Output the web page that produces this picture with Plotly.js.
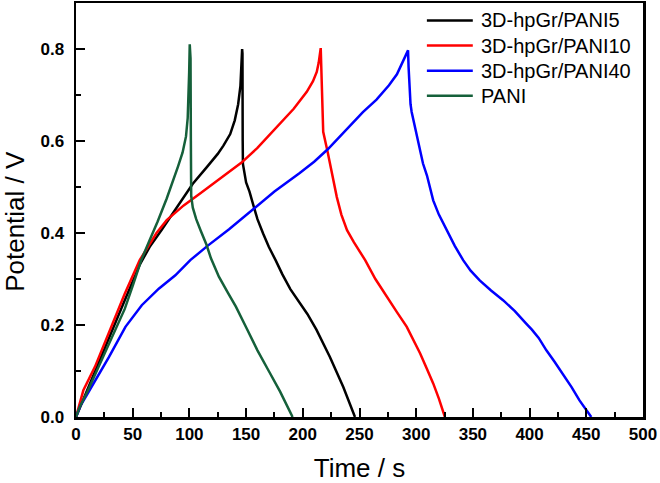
<!DOCTYPE html>
<html>
<head>
<meta charset="utf-8">
<script src="https://cdn.plot.ly/plotly-3.0.1.min.js"></script>
<style>html,body{margin:0;padding:0;background:#fff;}#chart{width:660px;height:483px;}</style>
</head>
<body>
<div id="chart"></div>
<script>
// PANI (green)
const tPANI = [0,3,10,16.7,28.4,43,50,57.7,65,72,80,86,90,94,97,98.5,99.3,99.8,100.3,101,101.3,101.6,103,106,110,115,119,126,134,141,150,160,170,180,191];
const vPANI = [0,0.02,0.055,0.091,0.156,0.235,0.285,0.342,0.385,0.425,0.475,0.515,0.545,0.575,0.61,0.65,0.7,0.75,0.81,0.78,0.6,0.48,0.455,0.43,0.405,0.375,0.345,0.305,0.27,0.24,0.195,0.145,0.1,0.055,0];
// 3D-hpGr/PANI5 (black)
const tP5 = [0,5,16.7,28.4,43,56,65,75.3,90,103,115,125,130,136,140,143,145,146.2,146.5,146.8,147,147.2,150,153,156,160,165,170,176,182,189,197,204,212,218,224,235.7,246];
const vP5 = [0,0.03,0.1,0.17,0.254,0.33,0.37,0.406,0.46,0.507,0.542,0.572,0.59,0.615,0.645,0.68,0.72,0.77,0.8,0.79,0.6,0.55,0.51,0.49,0.464,0.43,0.399,0.37,0.341,0.31,0.278,0.25,0.224,0.19,0.16,0.13,0.065,0];
// 3D-hpGr/PANI10 (red)
const tP10 = [0,6.5,16.7,28.4,43,56.2,71,80,95,110,125,146,160,174,180,192,203.5,209,212.3,214,215.8,216.5,217.5,218,222,225,230,234,239,245,250.4,255,264,274,283,291.7,297,303.5,309,315,320,325.3];
const vP10 = [0,0.058,0.109,0.181,0.268,0.341,0.40,0.428,0.46,0.487,0.515,0.553,0.585,0.622,0.638,0.67,0.707,0.73,0.75,0.77,0.802,0.75,0.65,0.62,0.575,0.54,0.478,0.44,0.406,0.38,0.359,0.341,0.3,0.261,0.228,0.196,0.17,0.138,0.107,0.073,0.04,0];
// 3D-hpGr/PANI40 (blue)
const tP40 = [0,4,10,17,29,43.6,58,73,87.6,100.8,116,135,156,175,197,210,222,235,253,265,276,283,288,292.8,293.3,294,295,296,300.4,306,309.5,315,320,326.8,334,341.4,348,356,366,376.6,387,397,402,408,414.8,422,429.4,437,444,454.4];
const vP40 = [0,0.025,0.05,0.08,0.13,0.196,0.243,0.279,0.308,0.341,0.372,0.408,0.452,0.49,0.53,0.555,0.582,0.615,0.663,0.69,0.721,0.745,0.772,0.797,0.76,0.72,0.68,0.663,0.612,0.551,0.525,0.471,0.44,0.406,0.372,0.341,0.318,0.297,0.275,0.254,0.23,0.203,0.19,0.172,0.145,0.12,0.094,0.065,0.036,0];

const seriesNames = ["3D-hpGr/PANI5","3D-hpGr/PANI10","3D-hpGr/PANI40","PANI"];
const seriesColors = ["#000000","#ff0000","#0000ff","#15603a"];
const seriesT = [tP5,tP10,tP40,tPANI];
const seriesV = [vP5,vP10,vP40,vPANI];

// tick values and labels
const xTickVals = [0,50,100,150,200,250,300,350,400,450,500];
const xTickText = ["0","50","100","150","200","250","300","350","400","450","500"];
const yTickVals = [0,0.2,0.4,0.6,0.8];
const yTickText = ["0.0","0.2","0.4","0.6","0.8"];

const FONT = "Liberation Sans, Arial, sans-serif";

const traces = seriesNames.map((n,i)=>({
  x: seriesT[i], y: seriesV[i], name: n, type: 'scatter', mode: 'lines',
  line: {color: seriesColors[i], width: 2.5}, showlegend: false
}));

// plot-area geometry (pixels) used to place the legend in paper coordinates
const M = {l: 75.5, r: 16.5, t: 3.3, b: 66.3};
const W = 660, H = 483;
const pw = W - M.l - M.r, ph = H - M.t - M.b;
const px2x = p => (p - M.l) / pw;
const py2y = p => (H - M.b - p) / ph;

const shapes = [];
const annotations = [];
seriesNames.forEach((n,i)=>{
  const py = 20.7 + 25.1 * i;
  shapes.push({type: 'line', xref: 'paper', yref: 'paper',
    x0: px2x(427), x1: px2x(473), y0: py2y(py), y1: py2y(py),
    line: {color: seriesColors[i], width: 2.5}});
  annotations.push({text: n, xref: 'paper', yref: 'paper', x: px2x(479), y: py2y(py),
    xanchor: 'left', yanchor: 'middle', showarrow: false,
    font: {family: FONT, size: 20, color: '#000'}});
});
annotations.push({
  text: 'Potential / V', xref: 'paper', yref: 'paper', x: px2x(14.5), y: py2y(221.7),
  xanchor: 'center', yanchor: 'middle', showarrow: false, textangle: -90,
  font: {family: FONT, size: 26, color: '#000'}
});

const bold = arr => arr.map(s => '<b>' + s + '</b>');

const axisCommon = {
  showgrid: false, zeroline: false, showline: true, linecolor: '#000', linewidth: 2.5,
  mirror: true, ticks: 'inside', tickcolor: '#000', tickwidth: 2, ticklen: 9,
  tickmode: 'array',
  tickfont: {family: FONT, size: 17, color: '#000', weight: 700}
};

const layout = {
  width: W, height: H,
  margin: {l: M.l, r: M.r, t: M.t, b: M.b, pad: 0},
  paper_bgcolor: '#fff', plot_bgcolor: '#fff',
  showlegend: false,
  xaxis: Object.assign({}, axisCommon, {
    range: [0, 500], tickvals: xTickVals, ticktext: bold(xTickText),
    minor: {dtick: 25, tick0: 0, ticks: 'inside', ticklen: 5, tickwidth: 2, tickcolor: '#000'},
    title: {text: 'Time / s', font: {family: FONT, size: 26, color: '#000'}, standoff: 22}
  }),
  yaxis: Object.assign({}, axisCommon, {
    range: [0, 0.9], tickvals: yTickVals, ticktext: bold(yTickText),
    minor: {dtick: 0.1, tick0: 0, ticks: 'inside', ticklen: 5, tickwidth: 2, tickcolor: '#000'},
    ticklabelstandoff: 6
  }),
  shapes: shapes,
  annotations: annotations
};

Plotly.newPlot('chart', traces, layout, {displayModeBar: false, staticPlot: true});
</script>
</body>
</html>
